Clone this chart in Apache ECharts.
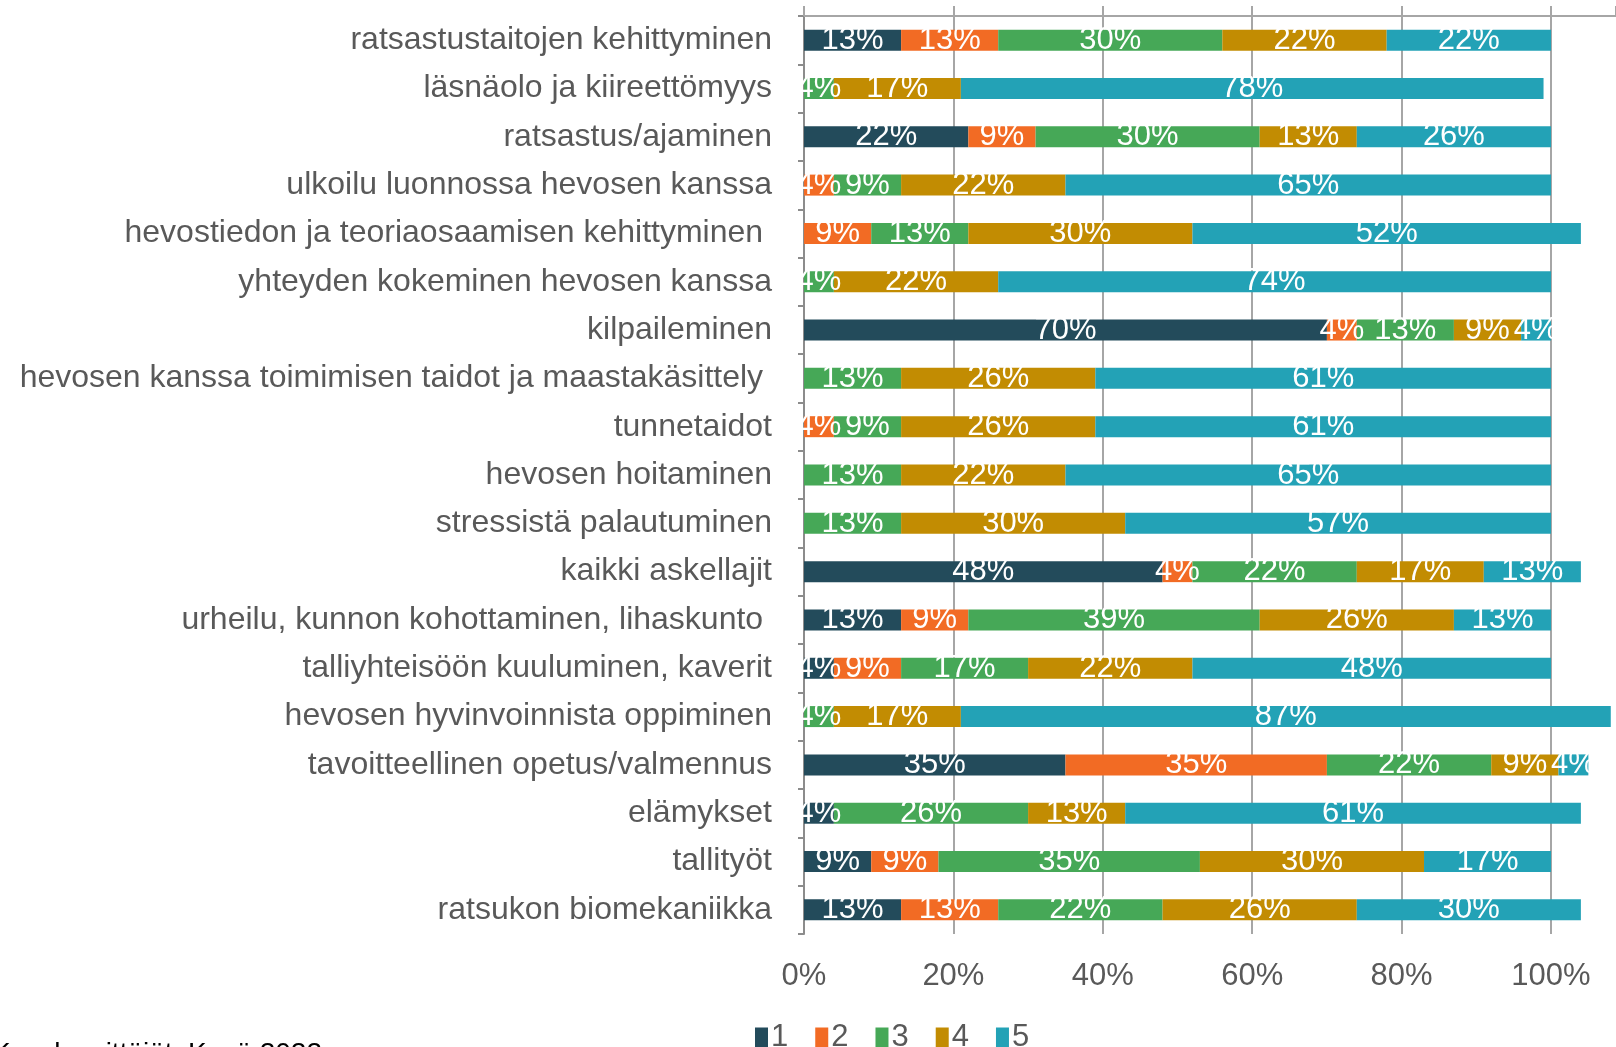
<!DOCTYPE html>
<html>
<head>
<meta charset="utf-8">
<script src="https://cdn.jsdelivr.net/npm/echarts@6/dist/echarts.min.js"></script>
<style>
  html, body { margin: 0; padding: 0; background: #fff; }
  #main { width: 1616px; height: 1047px; }
</style>
</head>
<body>
<div id="main"></div>
<script>
var categories = ['ratsastustaitojen kehittyminen', 'läsnäolo ja kiireettömyys', 'ratsastus/ajaminen',
  'ulkoilu luonnossa hevosen kanssa', 'hevostiedon ja teoriaosaamisen kehittyminen ',
  'yhteyden kokeminen hevosen kanssa', 'kilpaileminen',
  'hevosen kanssa toimimisen taidot ja maastakäsittely ', 'tunnetaidot', 'hevosen hoitaminen',
  'stressistä palautuminen', 'kaikki askellajit', 'urheilu, kunnon kohottaminen, lihaskunto ',
  'talliyhteisöön kuuluminen, kaverit', 'hevosen hyvinvoinnista oppiminen',
  'tavoitteellinen opetus/valmennus', 'elämykset', 'tallityöt', 'ratsukon biomekaniikka'];

var s1 = [13, 0, 22, 0, 0, 0, 70, 0, 0, 0, 0, 48, 13, 4, 0, 35, 4, 9, 13];
var s2 = [13, 0, 9, 4, 9, 0, 4, 0, 4, 0, 0, 4, 9, 9, 0, 35, 0, 9, 13];
var s3 = [30, 4, 30, 9, 13, 4, 13, 13, 9, 13, 13, 22, 39, 17, 4, 22, 26, 35, 22];
var s4 = [22, 17, 13, 22, 30, 22, 9, 26, 26, 22, 30, 17, 26, 22, 17, 9, 13, 30, 26];
var s5 = [22, 78, 26, 65, 52, 74, 4, 61, 61, 65, 57, 13, 13, 48, 87, 4, 61, 17, 30];

var seriesNames = ['1', '2', '3', '4', '5'];
var seriesData = [s1, s2, s3, s4, s5];
var colors = ['#234b5b', '#f26b24', '#46a857', '#c28c02', '#23a2b6'];

var font = "'Liberation Sans', Arial, sans-serif";
var gridColor = '#a6a6a6';

var chart = echarts.init(document.getElementById('main'));

var series = seriesData.map(function (d, i) {
  return {
    name: seriesNames[i],
    type: 'bar',
    stack: 'total',
    barWidth: 21,
    itemStyle: { color: colors[i] },
    label: {
      show: true,
      position: 'inside',
      color: '#fff',
      fontSize: 31,
      fontFamily: font,
      formatter: function (p) { return p.value ? p.value + '%' : ''; }
    },
    data: d
  };
});

var option = {
  animation: false,
  color: colors,
  textStyle: { fontFamily: font },
  grid: { left: 804, right: 0, top: 16, bottom: 113, containLabel: false },
  legend: {
    data: seriesNames,
    left: 750,
    top: 1017,
    icon: 'rect',
    itemWidth: 13,
    itemHeight: 20,
    itemGap: 27,
    textStyle: { fontSize: 31, color: '#595959', fontFamily: font, padding: [0, 0, 0, -2] }
  },
  xAxis: [
    {
      type: 'value',
      position: 'bottom',
      min: 0,
      max: 108.7,
      interval: 20,
      axisLine: { show: false },
      axisTick: { show: false },
      splitLine: { show: true, showMaxLine: false, lineStyle: { color: gridColor, width: 2 } },
      axisLabel: {
        margin: 27,
        fontSize: 31,
        color: '#595959',
        fontFamily: font,
        showMaxLabel: false,
        formatter: function (v) { return v > 100 ? '' : v + '%'; }
      }
    },
    {
      type: 'value',
      position: 'top',
      min: 0,
      max: 108.7,
      interval: 20,
      axisLine: { show: true, lineStyle: { color: gridColor, width: 2 } },
      axisTick: { show: true, length: 10, lineStyle: { color: gridColor, width: 2 } },
      splitLine: { show: false },
      axisLabel: { show: false }
    }
  ],
  yAxis: {
    type: 'category',
    inverse: true,
    data: categories,
    axisLine: { show: true, lineStyle: { color: '#8c8c8c', width: 2 } },
    axisTick: { show: true, length: 6, lineStyle: { color: '#8c8c8c', width: 2 } },
    axisLabel: { margin: 32, fontSize: 32, color: '#595959', fontFamily: font }
  },
  graphic: [
    {
      type: 'text',
      x: 322,
      y: 1054,
      style: {
        text: 'Kysely yrittäjät, Kasä 2022',
        textAlign: 'right',
        textVerticalAlign: 'middle',
        fontSize: 28,
        fontFamily: font,
        fill: '#000'
      }
    }
  ],
  series: series
};

chart.setOption(option);
</script>
</body>
</html>
